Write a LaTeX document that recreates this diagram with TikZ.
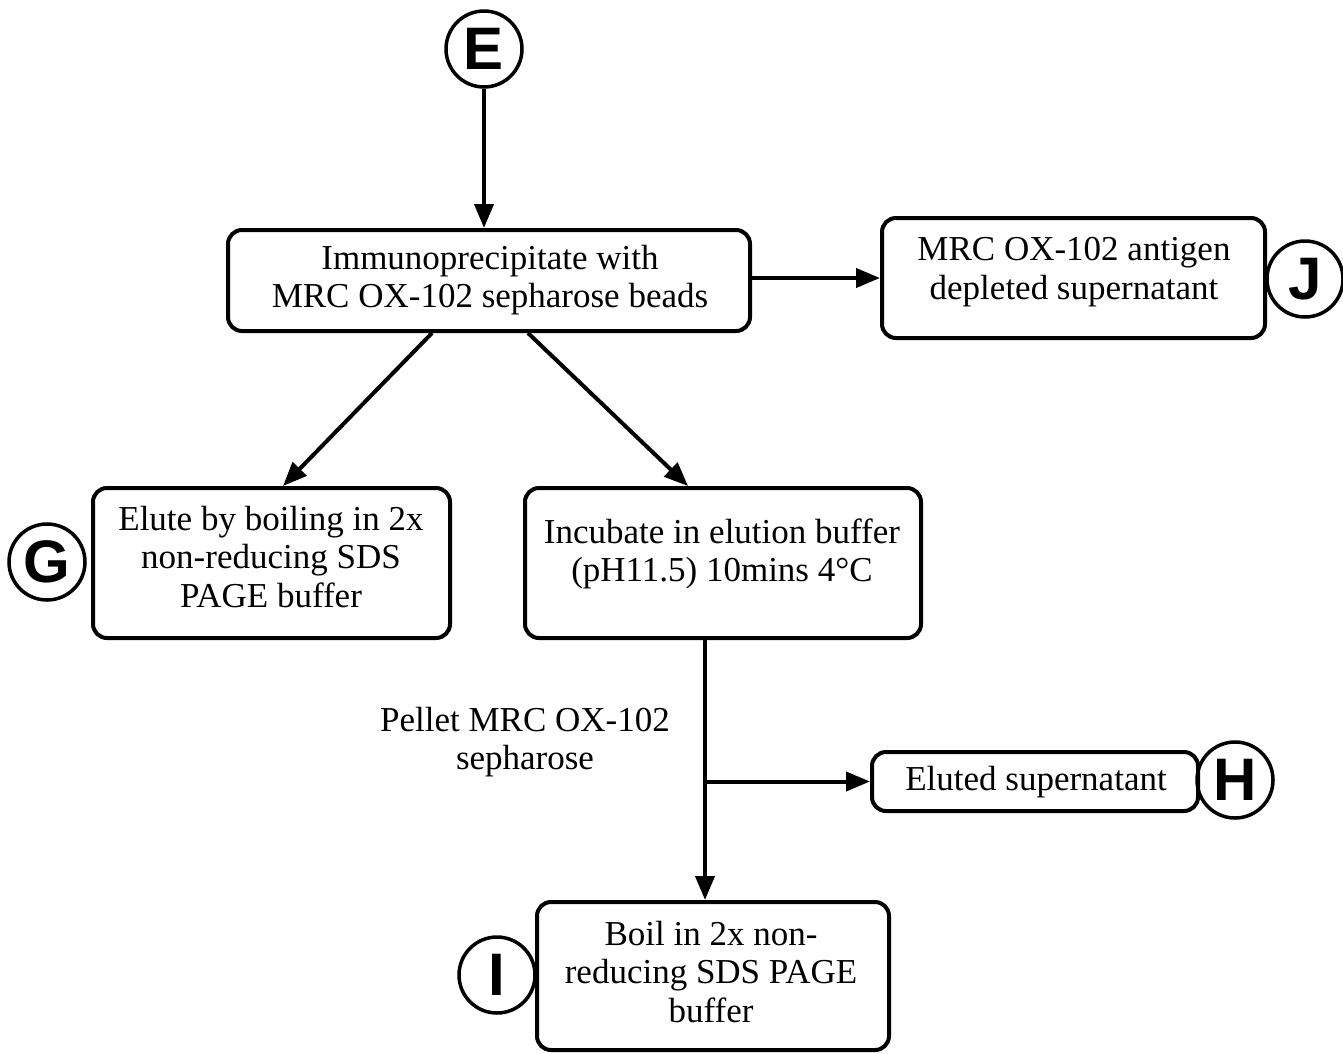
\documentclass[tikz,border=0pt]{standalone}
\usepackage{fontspec}
\setmainfont{Liberation Serif}
\newfontfamily\tagfont{Liberation Sans}
\usetikzlibrary{arrows.meta}

\begin{document}
\begin{tikzpicture}[x=1pt,y=-1pt,
  every node/.style={inner sep=0pt},
  stepbox/.style={draw, line width=4pt, rounded corners=14pt},
  txt/.style={align=center, font=\fontsize{35}{38.5}\selectfont},
  tag/.style={draw, circle, line width=3.5pt, minimum size=76pt,
    font=\tagfont\bfseries\fontsize{60}{60}\selectfont},
  flow/.style={line width=4pt, -{Triangle[length=24pt,width=19pt]}},
]
\useasboundingbox (0,0) rectangle (1343,1053);

% process boxes
\node[stepbox, minimum width=522pt, minimum height=101pt] (ip) at (489,280.5) {};
\node[txt] (iptxt) at (490,280) {Immunoprecipitate with\\MRC OX-102 sepharose beads};

\node[stepbox, minimum width=383pt, minimum height=120pt] (dep) at (1073.5,278) {};
\node[txt] (deptxt) at (1074,272) {MRC OX-102 antigen\\depleted supernatant};

\node[stepbox, minimum width=357pt, minimum height=150pt] (boilg) at (271.5,563) {};
\node[txt] (boilgtxt) at (271,557) {Elute by boiling in 2x\\non-reducing SDS\\PAGE buffer};

\node[stepbox, minimum width=396pt, minimum height=150pt] (inc) at (723,563) {};
\node[txt] (inctxt) at (722,554) {Incubate in elution buffer\\(pH11.5) 10mins 4°C};

\node[stepbox, minimum width=326pt, minimum height=59pt] (elu) at (1035,781.5) {};
\node[txt] (elutxt) at (1036,782) {Eluted supernatant};

\node[stepbox, minimum width=352pt, minimum height=148pt] (boili) at (713,976) {};
\node[txt] (boilitxt) at (711,972) {Boil in 2x non-\\reducing SDS PAGE\\buffer};

% side label on the pelleting step
\node[txt] (pellet) at (525,742) {Pellet MRC OX-102\\sepharose};

% lettered tags
\node[tag] (tE) at (484,49) {E};
\node[tag] (tJ) at (1305,279) {J};
\node[tag] (tG) at (47,562) {G};
\node[tag] (tH) at (1235,780) {H};
\node[tag] (tI) at (497,975) {I};

% connectors
\draw[flow] (tE.south) -- (tE.south |- ip.north);
\draw[flow] (ip.east |- dep.west) -- (dep.west);
\draw[flow] ([xshift=-57pt]ip.south) -- ([xshift=11.5pt]boilg.north);
\draw[flow] ([xshift=39pt]ip.south) -- ([xshift=-35pt]inc.north);
\coordinate (split) at (705,781.5);
\draw[flow] ([xshift=-18pt]inc.south) -- ([xshift=-18pt]inc.south |- boili.north);
\draw[flow] (split) -- (elu.west);
\end{tikzpicture}
\end{document}
